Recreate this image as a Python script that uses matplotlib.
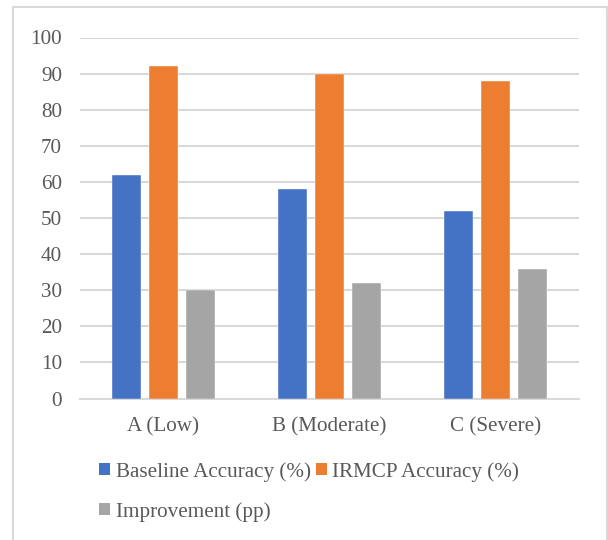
import matplotlib
matplotlib.use("Agg")
import matplotlib.pyplot as plt
from matplotlib.patches import Rectangle, Patch
import numpy as np

plt.rcParams['font.family'] = ['Liberation Serif', 'DejaVu Serif']

categories = ["A (Low)", "B (Moderate)", "C (Severe)"]
baseline = [62, 58, 52]
irmcp = [92, 90, 88]
improvement = [30, 32, 36]
yticks = [0, 10, 20, 30, 40, 50, 60, 70, 80, 90, 100]

series = [
    ("Baseline Accuracy (%)", baseline, "#4472C4"),
    ("IRMCP Accuracy (%)", irmcp, "#ED7D31"),
    ("Improvement (pp)", improvement, "#A5A5A5"),
]

W, H = 608, 540
fig = plt.figure(figsize=(W / 100, H / 100), dpi=100)

# outer chart frame
fig.patches.append(Rectangle((13 / W, -0.05), (607 - 13) / W, 1.05 - 7 / H,
                             transform=fig.transFigure, fill=False,
                             edgecolor="#D9D9D9", linewidth=1.5))

ax = fig.add_axes([80 / W, 1 - 398.5 / H, (579 - 80) / W, (398.5 - 37.5) / H])

x = np.arange(len(categories))
width = 0.173
step = 0.2225
handles = []
for i, (name, vals, col) in enumerate(series):
    ax.bar(x + (i - 1) * step, vals, width, color=col, zorder=3,
           edgecolor="white", linewidth=0.3)
    handles.append(Patch(facecolor=col, edgecolor="none", label=name))

ax.set_xlim(-0.5, 2.5)
ax.set_ylim(0, 100)
ax.set_yticks(yticks)
ax.set_xticks(x)
ax.set_xticklabels(categories)
ax.yaxis.grid(True, color="#D9D9D9", linewidth=1.5, zorder=0)
ax.set_axisbelow(True)
for s in ["top", "right", "left"]:
    ax.spines[s].set_visible(False)
ax.spines["bottom"].set_color("#D9D9D9")
ax.spines["bottom"].set_linewidth(1.5)
ax.tick_params(axis="both", length=0, labelsize=15.2, labelcolor="#595959")
ax.tick_params(axis="y", pad=13)
ax.tick_params(axis="x", pad=13.5)

# two-column legend: first column holds entries 1 and 3
order = [handles[0], handles[2], handles[1]]
fig.legend(handles=order, labels=[h.get_label() for h in order], ncol=2,
           loc="upper left", bbox_to_anchor=(99.3 / W, 1 - 462 / H),
           frameon=False, fontsize=15.2, handlelength=0.51, handleheight=0.51,
           handletextpad=0.26, columnspacing=0.25, labelspacing=0.95,
           borderpad=0, borderaxespad=0, labelcolor="#595959")

fig.savefig("out.png", dpi=100, facecolor="white")
